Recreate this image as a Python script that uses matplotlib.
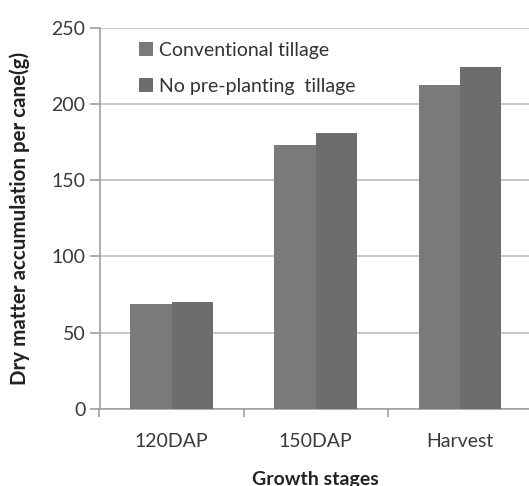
import numpy as np
import matplotlib.pyplot as plt

stages = ['120DAP', '150DAP', 'Harvest']
conventional = [69.0, 173.0, 212.2]
no_preplanting = [69.9, 180.8, 224.3]
series_names = ['Conventional tillage', 'No pre-planting  tillage']

plt.rcParams['font.family'] = ['Lato', 'DejaVu Sans']

fig = plt.figure(figsize=(5.29, 4.86), dpi=100)
# plot area runs a little past the right edge of the figure
ax = fig.add_axes([99.5 / 529, 1 - 409 / 486, 432.5 / 529, (409 - 27.7) / 486])

x = np.arange(len(stages))
width = 0.287
ax.bar(x - width / 2, conventional, width, color='#7a7a7a', zorder=3,
       label=series_names[0])
ax.bar(x + width / 2, no_preplanting, width, color='#6d6d6d', zorder=3,
       label=series_names[1])

ax.set_xlim(-0.5, 2.5)
ax.set_ylim(0, 250)
ax.set_yticks(range(0, 251, 50))
ax.yaxis.grid(True, color='#bdbdbd', linewidth=1.2, zorder=0)

ax.set_xticks(x)
ax.set_xticklabels(stages)
ax.set_xticks(np.arange(-0.5, 2.6, 1), minor=True)
ax.tick_params(axis='x', which='major', length=0, pad=17, labelsize=14,
               labelcolor='#3a3a3a')
ax.tick_params(axis='x', which='minor', length=6, color='#a0a0a0', width=1.2)
ax.tick_params(axis='y', length=7, color='#a0a0a0', width=1.2, pad=3,
               labelsize=14, labelcolor='#3a3a3a')

for side in ('top', 'right'):
    ax.spines[side].set_visible(False)
for side in ('left', 'bottom'):
    ax.spines[side].set_color('#a0a0a0')
    ax.spines[side].set_linewidth(1.2)

ax.set_ylabel('Dry matter accumulation per cane(g)', fontsize=14.8,
              fontweight='bold', color='#222222')
ax.yaxis.set_label_coords(-69 / 432.5, 0.5)
ax.set_xlabel('Growth stages', fontsize=14, fontweight='bold',
              color='#222222', va='baseline')
ax.xaxis.set_label_coords(0.50, -76 / 381.3)

leg = ax.legend(loc='upper left', bbox_to_anchor=(0.05, 1.008), frameon=False,
                fontsize=14, handlelength=0.75, handleheight=0.75,
                handletextpad=0.3, labelspacing=0.95, labelcolor='#333333')

fig.savefig('out.png', dpi=100)
